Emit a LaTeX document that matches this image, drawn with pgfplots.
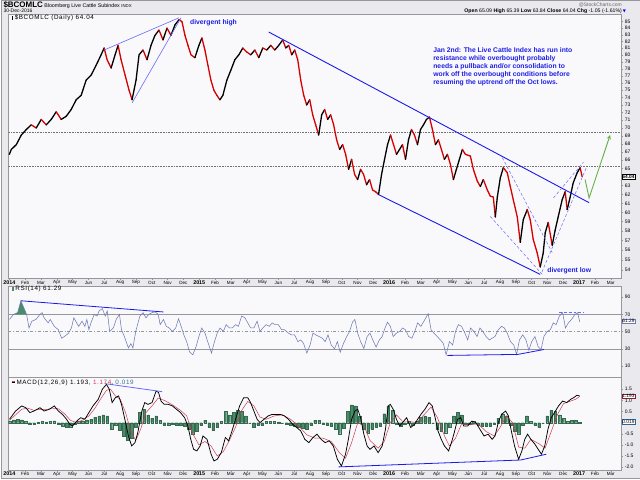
\documentclass[border=0pt]{standalone}
\usepackage{pgfplots}
\pgfplotsset{compat=1.18}
\usepackage{pgfplotstable}
\usepackage{fontspec}
\setmainfont{Liberation Sans}
\newfontfamily\sym{DejaVu Sans}
\newfontfamily\lblfont{Liberation Sans}[LetterSpace=10]
\definecolor{outerbg}{RGB}{234,234,238}
\definecolor{panelbg}{RGB}{249,249,252}
\definecolor{frame}{RGB}{150,150,156}
\definecolor{tlblue}{RGB}{25,25,235}
\definecolor{tlblue2}{RGB}{105,105,250}
\definecolor{rsicol}{RGB}{112,122,180}
\definecolor{histgreen}{RGB}{72,140,105}
\definecolor{sigred}{RGB}{205,60,80}
\definecolor{annblue}{RGB}{30,30,230}
\definecolor{arrowgreen}{RGB}{100,175,70}

% price: px = horizontal position read off the chart, p = price, c = 1 rising / 0 falling
\pgfplotstableread{
px p c
8 66.7 1
10 67.3 1
15 67.9 1
20 69.1 1
25 69.8 1
30 70.4 0
35 70.0 1
40 71.1 0
45 70.4 1
50 71.1 1
55 72.1 0
60 71.1 1
65 71.5 1
70 72.4 1
75 73.7 1
80 74.3 1
85 76.4 1
90 77.1 1
95 78.5 1
100 80.0 1
103 81.0 0
106 79.3 0
110 78.1 1
114 80.0 1
117 81.4 0
120 79.3 0
124 77.1 0
128 75.0 0
131 73.7 1
135 76.4 1
138 80.0 1
142 80.7 0
146 79.3 1
150 81.4 1
154 82.9 1
158 83.7 0
162 82.2 1
166 84.0 0
170 82.9 1
174 84.5 1
178 85.3 0
181 85.0 0
184 82.9 0
187 81.4 0
190 80.0 0
194 79.6 1
198 81.4 1
201 82.5 0
204 80.7 0
207 78.5 0
210 76.4 0
213 75.0 0
216 74.3 0
219 73.7 1
222 74.3 1
226 76.4 1
230 77.8 1
234 79.3 1
238 80.0 1
242 81.0 0
246 80.4 0
250 80.0 1
254 80.7 0
258 79.6 1
262 81.0 0
266 80.7 1
270 81.4 0
274 80.7 1
278 81.4 1
282 82.2 0
285 81.0 1
288 81.4 0
291 80.0 1
294 80.7 0
297 79.3 0
300 76.4 0
303 74.3 0
306 73.0 1
309 73.7 0
312 71.7 0
315 70.4 0
318 69.1 1
321 71.7 1
324 72.4 0
327 71.1 1
330 71.7 0
333 70.4 0
336 68.5 0
339 67.3 1
342 67.9 0
345 66.7 0
348 64.9 1
351 66.1 0
354 64.3 0
357 63.7 1
360 64.9 0
363 64.3 0
366 63.1 1
369 63.7 0
372 62.5 0
375 62.3 0
378 62.0 1
381 64.3 1
384 66.1 1
387 67.9 1
390 69.1 0
393 67.9 0
396 66.7 1
399 67.3 1
402 67.9 0
405 66.1 1
408 68.5 1
411 69.8 0
414 69.1 0
417 67.9 1
420 69.8 1
423 70.4 1
426 71.1 1
429 71.4 0
432 69.8 0
435 67.9 1
438 68.5 0
441 67.3 0
444 66.1 1
447 66.7 0
450 65.5 0
453 63.7 1
456 64.9 1
459 66.1 1
462 67.3 0
465 66.7 0
470 66.5 0
473 64.9 0
477 63.5 0
480 62.9 1
483 63.7 0
487 62.5 0
490 61.8 0
493 61.7 0
495 59.5 1
497 61.7 1
500 63.9 1
503 65.1 0
507 64.5 0
510 62.9 0
513 61.4 0
517 59.5 0
520 56.8 1
523 59.2 1
527 60.3 0
530 59.2 0
533 57.1 0
537 55.7 0
540 54.3 1
543 55.7 1
545 57.8 1
548 58.9 0
552 56.5 1
555 58.1 1
558 59.5 1
562 61.4 1
565 62.3 0
567 60.3 1
570 61.7 1
573 63.3 1
577 64.5 1
580 65.1 0
582 64.04 0
}\pricetab

\pgfplotstableread{
xi rsi
20 64.1
30 70.0
40 72.0
48 85.8
55 77.9
62 70.0
68 54.2
75 62.1
85 64.1
95 70.0
100 72.0
105 66.0
115 60.1
120 64.1
130 56.1
140 52.2
148 42.3
155 44.3
165 48.2
172 54.2
178 66.0
185 60.1
190 56.1
198 62.1
205 56.1
210 64.1
215 52.2
220 60.1
228 70.0
235 68.0
240 74.0
248 76.7
255 68.0
260 74.0
266 50.2
275 54.2
282 64.1
290 70.0
295 52.2
302 44.3
312 31.0
318 36.0
323 31.0
330 50.2
340 68.0
348 72.0
355 66.0
362 70.0
370 72.0
378 72.8
385 70.0
390 58.1
398 64.1
405 56.1
412 54.2
420 50.2
428 54.2
435 64.9
440 58.1
448 46.2
455 38.3
462 26.4
470 23.0
478 32.4
485 44.3
492 54.2
500 48.2
508 36.3
516 25.0
522 36.3
530 48.2
537 54.2
545 50.2
552 58.1
560 54.2
567 54.2
575 58.1
582 56.1
590 68.0
598 66.0
605 60.1
612 54.2
620 54.2
628 62.1
635 50.2
642 54.2
650 58.1
658 56.1
665 60.1
672 58.1
680 58.1
688 52.2
695 52.2
705 48.2
712 46.2
720 46.2
728 38.3
735 40.3
742 36.3
750 25.0
758 34.4
765 48.2
772 46.2
780 44.3
788 42.3
795 38.3
802 46.2
810 34.4
818 30.0
825 38.3
832 26.0
840 36.3
848 44.3
855 50.2
862 60.9
868 64.1
875 48.2
882 38.3
890 30.4
898 44.3
905 48.2
912 40.3
920 32.0
928 40.3
935 44.3
942 54.2
948 60.9
955 56.1
962 44.3
970 48.2
978 50.2
985 54.2
992 52.2
1000 44.3
1008 42.3
1015 50.2
1022 60.1
1030 56.1
1040 64.1
1048 70.8
1055 52.2
1062 48.2
1070 44.3
1078 40.3
1085 36.3
1092 23.0
1100 38.3
1108 34.4
1115 50.2
1122 58.1
1130 56.1
1138 48.2
1145 40.3
1152 54.2
1160 50.2
1168 44.3
1175 54.2
1182 50.2
1190 44.3
1198 40.3
1205 42.3
1212 44.3
1220 52.2
1228 56.1
1235 54.2
1242 48.2
1250 38.3
1258 34.4
1265 23.5
1272 40.3
1280 46.2
1288 40.3
1295 28.4
1302 38.3
1310 44.3
1318 32.4
1325 29.0
1332 44.3
1340 50.2
1348 52.2
1355 60.1
1362 58.1
1370 68.0
1378 72.0
1385 54.2
1392 60.1
1400 64.1
1408 70.0
1415 72.0
1420 61.29
}\rsitab

\pgfplotstableread{
xi macd
20 0.15
35 0.52
50 0.75
60 0.67
70 0.45
80 0.52
95 0.67
105 0.52
118 0.60
130 0.75
140 0.52
150 0.37
160 0.15
168 -0.07
175 -0.15
185 0.07
195 0.22
205 0.15
215 0.45
225 0.75
238 1.05
248 1.50
258 1.72
265 1.50
272 0.90
280 1.12
288 1.20
295 0.82
305 0.00
312 -0.60
320 -1.05
328 -0.90
335 -0.45
345 0.52
352 0.90
360 0.82
370 0.90
380 1.42
386 1.35
392 0.97
400 0.82
410 0.82
420 0.75
430 0.60
440 0.45
450 0.22
458 -0.15
465 -0.75
472 -1.20
480 -1.27
488 -1.05
495 -0.60
505 -0.75
515 -1.42
522 -1.72
530 -1.65
540 -1.35
550 -0.67
558 -0.82
565 -0.45
575 0.15
585 0.75
595 1.12
605 1.12
612 0.90
620 0.52
628 0.15
635 0.00
645 0.15
655 0.30
665 0.37
675 0.37
685 0.37
695 0.30
705 0.15
715 -0.07
725 -0.22
735 -0.37
745 -0.75
755 -0.90
765 -0.67
775 -0.52
785 -0.75
795 -0.90
805 -0.82
815 -1.05
825 -1.65
835 -1.95
845 -1.42
852 -0.75
860 0.15
868 0.52
875 0.60
882 0.22
890 -0.52
898 -1.05
905 -1.20
915 -1.05
925 -1.35
935 -1.05
943 -0.30
950 0.75
955 0.82
962 0.60
970 0.15
978 -0.15
985 0.00
995 0.22
1005 -0.22
1015 -0.07
1022 0.15
1030 0.37
1040 0.60
1050 0.90
1058 0.75
1065 0.22
1072 -0.37
1080 -0.75
1088 -1.05
1098 -1.27
1105 -0.90
1112 -0.45
1120 0.15
1128 0.22
1135 -0.15
1145 -0.15
1155 0.07
1165 0.00
1175 -0.30
1185 -0.60
1195 -0.52
1205 -0.75
1212 -0.60
1220 0.00
1228 0.37
1238 0.52
1245 0.30
1252 -0.37
1260 -1.05
1270 -1.65
1278 -1.27
1285 -0.75
1292 -0.52
1300 -0.75
1310 -0.97
1318 -1.20
1326 -1.42
1334 -1.05
1342 -0.30
1350 0.22
1358 0.45
1368 0.75
1378 0.97
1388 0.90
1398 1.05
1405 1.12
1413 1.23
1420 1.193
}\macdtab

\pgfplotstableread{
xi sig
20 0.10
35 0.35
50 0.60
65 0.65
80 0.55
95 0.60
110 0.58
125 0.65
140 0.62
155 0.40
170 0.10
185 0.00
200 0.12
215 0.30
230 0.65
245 1.10
258 1.45
268 1.50
280 1.20
292 1.05
305 0.45
318 -0.40
330 -0.80
342 -0.30
355 0.45
370 0.75
385 1.10
400 1.00
420 0.80
440 0.55
455 0.30
470 -0.50
485 -1.00
500 -0.85
515 -1.05
530 -1.50
545 -1.30
560 -0.80
575 -0.20
590 0.55
605 0.95
620 0.75
635 0.25
650 0.15
670 0.30
690 0.35
710 0.15
730 -0.15
750 -0.55
770 -0.70
790 -0.70
810 -0.85
830 -1.35
845 -1.60
860 -0.90
875 0.00
890 -0.15
905 -0.80
925 -1.15
940 -0.85
955 0.00
970 0.35
985 0.05
1000 0.05
1020 0.00
1040 0.40
1055 0.70
1070 0.25
1088 -0.60
1100 -1.05
1115 -0.70
1130 -0.05
1150 -0.10
1170 -0.05
1190 -0.40
1210 -0.60
1225 -0.20
1240 0.30
1255 0.00
1270 -1.10
1285 -1.15
1300 -0.75
1320 -0.95
1335 -1.15
1350 -0.40
1365 0.35
1380 0.85
1395 0.95
1410 1.05
1420 1.174
}\sigtab

\pgfplotstableread{
xi hist
20 0.05
30 0.12
40 0.15
50 0.12
60 0.05
70 -0.08
80 -0.05
90 0.02
100 0.05
110 0.03
120 0.06
130 0.08
140 -0.05
150 -0.15
160 -0.20
170 -0.18
180 -0.08
190 0.05
200 0.08
210 0.12
220 0.15
230 0.25
240 0.30
250 0.35
260 0.30
270 -0.30
280 -0.10
290 -0.35
300 -0.60
310 -0.80
320 -0.70
330 -0.20
340 0.45
350 0.60
360 0.35
370 0.20
380 0.30
390 0.10
400 -0.10
410 -0.10
420 -0.08
430 -0.12
440 -0.12
450 -0.15
460 -0.30
470 -0.50
480 -0.40
490 -0.10
500 0.10
510 -0.20
520 -0.35
530 -0.20
540 0.05
550 0.50
560 0.35
570 0.45
580 0.55
590 0.50
600 0.30
610 0.00
620 -0.20
630 -0.10
640 -0.10
650 0.05
660 0.05
670 0.05
680 0.03
690 0.00
700 -0.05
710 -0.10
720 -0.15
730 -0.20
740 -0.25
750 -0.30
760 -0.10
770 0.10
780 0.10
790 -0.05
800 -0.10
810 -0.15
820 -0.30
830 -0.50
840 -0.25
850 0.50
860 0.80
870 0.75
880 0.30
890 -0.30
900 -0.45
910 -0.30
920 -0.20
930 -0.15
940 0.40
950 0.75
960 0.55
970 -0.05
980 -0.15
990 -0.05
1000 0.05
1010 -0.10
1020 0.05
1030 0.25
1040 0.30
1050 0.25
1060 0.00
1070 -0.30
1080 -0.40
1090 -0.45
1100 -0.20
1110 0.30
1120 0.45
1130 0.35
1140 -0.05
1150 -0.05
1160 0.05
1170 -0.10
1180 -0.15
1190 -0.15
1200 -0.15
1210 -0.05
1220 0.20
1230 0.40
1240 0.30
1250 -0.10
1260 -0.40
1270 -0.50
1280 -0.10
1290 0.30
1300 0.05
1310 -0.10
1320 -0.20
1330 0.00
1340 0.30
1350 0.55
1360 0.50
1370 0.35
1380 0.20
1390 0.05
1400 0.10
1410 0.10
1420 0.02
}\histtab

\pgfplotsset{
  panel/.style={
    scale only axis, width=614pt, anchor=south west,
    xmin=-0.063, xmax=38.65,
    axis background/.style={fill=panelbg},
    axis line style={draw=frame, line width=0.6pt},
    tick style={draw=frame, line width=0.3pt},
    tick align=outside, major tick length=1.5pt,
    xtick={0,...,38}, xtick pos=left,
    ytick pos=right, yticklabel pos=right,
    yticklabel style={font=\fontsize{5}{6}\selectfont, anchor=west, xshift=-1.2pt},
    xticklabel style={font=\fontsize{4.6}{5}\selectfont, anchor=center, yshift=-2.6pt},
    clip=true,
  },
  dates/.style={xticklabels={\textbf{\fontsize{5.4}{6}\selectfont 2014},Feb,Mar,Apr,May,Jun,Jul,Aug,Sep,Oct,Nov,Dec,
    \textbf{\fontsize{5.4}{6}\selectfont 2015},Feb,Mar,Apr,May,Jun,Jul,Aug,Sep,Oct,Nov,Dec,
    \textbf{\fontsize{5.4}{6}\selectfont 2016},Feb,Mar,Apr,May,Jun,Jul,Aug,Sep,Oct,Nov,Dec,
    \textbf{\fontsize{5.4}{6}\selectfont 2017},Feb,Mar}},
}
\tikzset{valbox/.style={draw=#1, fill=white, inner sep=0.7pt, font=\fontsize{4.8}{5}\selectfont, anchor=west, line width=0.5pt}}

\begin{document}
\begin{tikzpicture}[x=1pt,y=1pt]
\fill[outerbg] (0,0) rectangle (640,479);
\draw[frame, line width=0.5pt] (0.25,0.25) rectangle (639.75,478.75);

% ---------------- price panel
\begin{axis}[panel, dates, at={(7pt,200pt)}, height=265pt,
  ymode=log, ymin=53.18, ymax=86.2,
  ytick={54,55,56,57,58,59,60,61,62,63,64,65,66,67,68,69,70,71,72,73,74,75,76,77,78,79,80,81,82,83,84,85},
  yticklabels={54,55,56,57,58,59,60,61,62,63,{},65,66,67,68,69,70,71,72,73,74,75,76,77,78,79,80,81,82,83,84,85},
  point meta min=0, point meta max=1]
\addplot[black!55, densely dotted, line width=0.6pt] coordinates {(-1,69.4) (40,69.4)};
\addplot[black!55, densely dotted, line width=0.6pt] coordinates {(-1,65.3) (40,65.3)};
\addplot[mesh, shader=flat corner, line width=1.3pt, line join=round, line cap=round,
  colormap={updown}{rgb255=(215,0,0) rgb255=(0,0,0)}, point meta=explicit]
  table[x expr={(\thisrow{px}-8)/15.86}, y=p, meta=c] {\pricetab};
% trend lines
\addplot[tlblue2, line width=0.6pt] coordinates {(5.99,80.7) (10.72,85.6)};
\addplot[tlblue2, line width=0.6pt] coordinates {(7.76,73.3) (10.85,85.6)};
\addplot[tlblue, line width=0.9pt] coordinates {(16.39,83.4) (36.63,61.07)};
\addplot[tlblue, line width=0.9pt] coordinates {(23.33,61.97) (33.54,53.57)};
\addplot[tlblue2, densely dashed, line width=0.5pt] coordinates {(31.15,66.3) (34.30,55.75)};
\addplot[tlblue2, densely dashed, line width=0.5pt] coordinates {(30.39,59.55) (33.67,53.57)};
\addplot[tlblue2, densely dashed, line width=0.5pt] coordinates {(33.65,53.8) (36.49,65.25)};
\addplot[tlblue2, densely dashed, line width=0.5pt] coordinates {(34.38,61.6) (36.27,65.74)};
\addplot[arrowgreen, line width=0.9pt, -stealth] coordinates {(36.38,63.7) (36.63,61.6) (37.96,69.1)};
\end{axis}

% ---------------- RSI panel
\begin{axis}[panel, xticklabels={}, at={(7pt,101pt)}, height=91pt,
  ymin=-3, ymax=102.5, ytick={10,30,50,70,90}, yticklabels={10,30,50,70,90}]
\addplot[frame, line width=0.5pt] coordinates {(-1,70) (40,70)};
\addplot[frame, line width=0.5pt] coordinates {(-1,30) (40,30)};
\addplot[frame, dash dot, line width=0.5pt] coordinates {(-1,50) (40,50)};
\addplot[fill=histgreen, draw=none] coordinates {(0.268,70) (0.525,72.0) (0.731,85.8) (0.911,77.9) (1.091,70)};
\addplot[rsicol, line width=0.55pt] table[x expr={(\thisrow{xi}/2.45-8)/15.86}, y=rsi] {\rsitab};
\addplot[tlblue, line width=0.8pt] coordinates {(0.73,85.8) (9.74,72.8)};
\addplot[tlblue2, densely dashed, line width=0.5pt] coordinates {(34.7,73.0) (36.3,73.0)};
\addplot[tlblue, line width=0.8pt] coordinates {(27.68,22.3) (32.13,23.5) (33.78,29.2)};
\end{axis}

% ---------------- MACD panel
\begin{axis}[panel, dates, at={(7pt,8pt)}, height=93pt,
  ymin=-2.13, ymax=2.04, ytick={-2,-1.5,-1,-0.5,0.5,1,1.5},
  yticklabels={-2.0,-1.5,-1.0,-0.5,0.5,1.0,1.5}]
\addplot[ybar, bar width=2.6pt, bar shift=0pt, fill=histgreen, draw=histgreen!75!black, line width=0.2pt]
  table[x expr={(\thisrow{xi}/2.45-8)/15.86}, y=hist] {\histtab};
\addplot[sigred, line width=0.5pt] table[x expr={(\thisrow{xi}/2.45-8)/15.86}, y=sig] {\sigtab};
\addplot[black, line width=0.75pt] table[x expr={(\thisrow{xi}/2.45-8)/15.86}, y=macd] {\macdtab};
\addplot[tlblue2, line width=0.8pt] coordinates {(6.05,1.75) (9.66,1.39)};
\addplot[tlblue, line width=0.8pt] coordinates {(20.80,-1.99) (32.31,-1.68) (33.93,-1.42)};
\end{axis}

% ---------------- texts
\node[anchor=base west, inner sep=0] at (2,471) {\fontsize{8}{9}\selectfont\bfseries \$BCOMLC\,\mdseries\fontsize{5.3}{6}\selectfont Bloomberg Live Cattle Subindex\ \fontsize{4.3}{5}\selectfont INDX};
\node[anchor=base west, inner sep=0] at (2,466) {\fontsize{5}{6}\selectfont 30-Dec-2016};
\node[anchor=base east, inner sep=0] at (622,472) {\fontsize{5}{6}\selectfont\color{black!60}@StockCharts.com};
\node[anchor=base east, inner sep=0] at (626,466) {\fontsize{5.2}{6}\selectfont \textbf{Open} 65.09 \textbf{High} 65.39 \textbf{Low} 63.84 \textbf{Close} 64.04 \textbf{Chg} -1.05 (-1.61\%)\,{\sym\fontsize{4}{5}\selectfont\color{blue}▼}};

\node[anchor=base west, inner sep=0] at (10,459) {\rule{1.3pt}{4pt}\hspace{2pt}\lblfont\fontsize{6.3}{7}\selectfont \$BCOMLC (Daily) 64.04};
\node[anchor=base west, inner sep=0] at (10,187.5) {\textcolor{histgreen}{\rule{2.3pt}{3.5pt}}\hspace{1.6pt}\lblfont\fontsize{6.3}{7}\selectfont RSI(14) 61.29};
\node[anchor=base west, inner sep=0] at (10,94) {\raisebox{1.2pt}{\rlap{\textcolor{black}{\rule{3.5pt}{0.6pt}}}\raisebox{1.2pt}{\textcolor{sigred}{\rule{3.5pt}{0.6pt}}}}\hspace{1.5pt}\lblfont\fontsize{6.3}{7}\selectfont MACD(12,26,9) 1.193, \textcolor{sigred}{1.174}, \textcolor{histgreen!80!blue}{0.019}};

\begin{scope}[font=\fontsize{6.8}{7.9}\selectfont\bfseries, annblue]
\node[anchor=base west, inner sep=0] at (432.7,425.9) {Jan 2nd: The Live Cattle Index has run into};
\node[anchor=base west, inner sep=0] at (432.7,418.0) {resistance while overbought probably};
\node[anchor=base west, inner sep=0] at (432.7,410.1) {needs a pullback and/or consolidation to};
\node[anchor=base west, inner sep=0] at (432.7,402.2) {work off the overbought conditions before};
\node[anchor=base west, inner sep=0] at (432.7,394.3) {resuming the uptrend off the Oct lows.};
\node[anchor=base west, inner sep=0] at (189,454.5) {divergent high};
\node[anchor=base west, inner sep=0] at (547,205.5) {divergent low};
\end{scope}

\node[valbox=black, font=\fontsize{4.8}{5}\selectfont\bfseries] at (621.5,301.5) {64.04};
\node[valbox=rsicol] at (621.5,157) {61.29};
\node[valbox=sigred!60!black] at (621.5,82) {1.193};
\node[valbox=histgreen!70!blue] at (621.5,56) {0.019};
\end{tikzpicture}
\end{document}
